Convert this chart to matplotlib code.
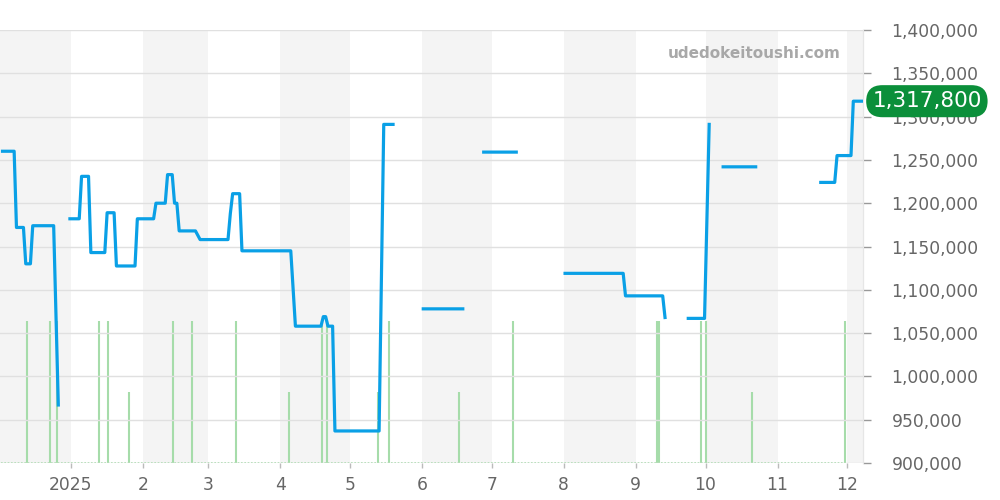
import numpy as np
import pandas as pd
import matplotlib
matplotlib.use("Agg")
import matplotlib.pyplot as plt
import matplotlib.dates as mdates
import matplotlib.ticker as mticker

# price line: corner points, None = break in the series
price_points = [
    ("2024-12-02", 1260000), ("2024-12-07", 1260000), ("2024-12-08", 1172000),
    ("2024-12-11", 1172000), ("2024-12-12", 1130000), ("2024-12-14", 1130000),
    ("2024-12-15", 1174000), ("2024-12-24", 1174000), ("2024-12-26", 967000),
    None,
    ("2024-12-31", 1182000), ("2025-01-04", 1182000), ("2025-01-05", 1231000),
    ("2025-01-08", 1231000), ("2025-01-09", 1143000), ("2025-01-15", 1143000),
    ("2025-01-16", 1189000), ("2025-01-19", 1189000), ("2025-01-20", 1127500),
    ("2025-01-28", 1127500), ("2025-01-29", 1182000), ("2025-02-05", 1182000),
    ("2025-02-06", 1200000), ("2025-02-10", 1200000), ("2025-02-11", 1233000),
    ("2025-02-13", 1233000), ("2025-02-14", 1200000), ("2025-02-15", 1200000),
    ("2025-02-16", 1168000), ("2025-02-23", 1168000), ("2025-02-25", 1158000),
    ("2025-03-09", 1158000), ("2025-03-10", 1188000), ("2025-03-11", 1211000),
    ("2025-03-14", 1211000), ("2025-03-15", 1145000), ("2025-04-05", 1145000),
    ("2025-04-07", 1058000), ("2025-04-18", 1058000), ("2025-04-19", 1069000),
    ("2025-04-20", 1069000), ("2025-04-21", 1058000), ("2025-04-23", 1058000),
    ("2025-04-24", 937000), ("2025-05-13", 937000), ("2025-05-15", 1291000),
    ("2025-05-19", 1291000),
    None,
    ("2025-06-01", 1078000), ("2025-06-18", 1078000),
    None,
    ("2025-06-27", 1259000), ("2025-07-11", 1259000),
    None,
    ("2025-08-01", 1119000), ("2025-08-26", 1119000), ("2025-08-27", 1093000),
    ("2025-09-12", 1093000), ("2025-09-13", 1068000),
    None,
    ("2025-09-23", 1067000), ("2025-09-30", 1067000), ("2025-10-02", 1291000),
    None,
    ("2025-10-08", 1242000), ("2025-10-22", 1242000),
    None,
    ("2025-11-19", 1224000), ("2025-11-25", 1224000), ("2025-11-26", 1255000),
    ("2025-12-02", 1255000), ("2025-12-03", 1317800), ("2025-12-07", 1317800),
]

# trade counts (green bars)
trade_dates = ["2024-12-13", "2024-12-23", "2024-12-26", "2025-01-13", "2025-01-17",
               "2025-01-26", "2025-02-14", "2025-02-22", "2025-03-13", "2025-04-05",
               "2025-04-19", "2025-04-21", "2025-05-13", "2025-05-18", "2025-06-17",
               "2025-07-10", "2025-09-10", "2025-09-11", "2025-09-29", "2025-10-01",
               "2025-10-21", "2025-11-30"]
trade_counts = [2, 2, 2, 2, 2, 1, 2, 2, 2, 1, 2, 2, 1, 2, 1, 2, 2, 2, 2, 2, 1, 2]

shaded_months = ["2024-12-01", "2025-02-01", "2025-04-01", "2025-06-01",
                 "2025-08-01", "2025-10-01", "2025-12-01"]
month_ticks = ["2025-01-01", "2025-02-01", "2025-03-01", "2025-04-01", "2025-05-01",
               "2025-06-01", "2025-07-01", "2025-08-01", "2025-09-01", "2025-10-01",
               "2025-11-01", "2025-12-01"]
month_labels = ["2025", "2", "3", "4", "5", "6", "7", "8", "9", "10", "11", "12"]

last_price = 1317800

x_start = pd.Timestamp("2024-12-01 12:00")
x_end = pd.Timestamp("2025-12-07 18:00")

# daily points sit in the middle of their day
half_day = pd.Timedelta(hours=14)
xnum, values = [], []
for p in price_points:
    if p is None:
        xnum.append(xnum[-1] + 0.5)
        values.append(np.nan)
    else:
        xnum.append(mdates.date2num(pd.Timestamp(p[0]) + half_day))
        values.append(p[1])

fig = plt.figure(figsize=(10, 5), dpi=100)
vol = fig.add_axes([0, 0.074, 0.863, 0.866])
ax = vol.twinx()
ax.set_zorder(2)
vol.set_zorder(1)
ax.patch.set_visible(False)

# month shading
for m in shaded_months:
    s = pd.Timestamp(m)
    vol.axvspan(s, s + pd.offsets.MonthBegin(1), color="#f4f4f4", lw=0, zorder=0)

vol.vlines(pd.to_datetime(trade_dates), 0, trade_counts, color="#a6dcaa", lw=1.5, zorder=2)
vol.plot([pd.Timestamp("2024-12-02"), pd.Timestamp("2025-12-01")], [0, 0],
         color="#a6dcaa", lw=1.2, ls=(0, (1, 1)), zorder=2)
vol.set_ylim(0, 6.1)
vol.yaxis.set_visible(False)

ax.plot(xnum, values, color="#0aa0e6", lw=2.3, solid_joinstyle="round", zorder=3)
ax.set_ylim(900000, 1400000)
ax.set_xlim(x_start, x_end)
vol.set_xlim(x_start, x_end)

ax.yaxis.set_major_locator(mticker.MultipleLocator(50000))
ax.yaxis.set_major_formatter(mticker.FuncFormatter(lambda v, p: f"{int(v):,}"))
ax.grid(axis="y", color="#e0e0e0", lw=1)
ax.tick_params(axis="y", which="both", right=True, left=False, length=5.5, width=1,
               color="#999999", labelcolor="#666666", labelsize=12.3, pad=15)
ax.yaxis.tick_right()

vol.set_xticks(pd.to_datetime(month_ticks))
vol.set_xticklabels(month_labels)
vol.tick_params(axis="x", length=3.5, width=1, color="#bbbbbb", labelcolor="#666666",
                labelsize=12.3, pad=6)
ax.tick_params(axis="x", bottom=False, labelbottom=False)

for a in (ax, vol):
    for side in ("top", "left", "bottom"):
        a.spines[side].set_visible(False)
    a.spines["right"].set_color("#e6e6e6")

ax.text(0.974, 0.946, "udedokeitoushi.com", transform=ax.transAxes, ha="right",
        va="center", fontsize=11, fontweight="bold", color="#a8a8a8")

ax.annotate(f"{last_price:,}", xy=(1, last_price), xycoords=ax.get_yaxis_transform(),
            xytext=(46, 0), textcoords="offset points", ha="center", va="center",
            fontsize=15.5, color="white",
            bbox=dict(boxstyle="round,pad=0.28,rounding_size=0.75", fc="#0b8f3a", ec="none"),
            annotation_clip=False, zorder=5)

fig.savefig("out.png", dpi=100)
